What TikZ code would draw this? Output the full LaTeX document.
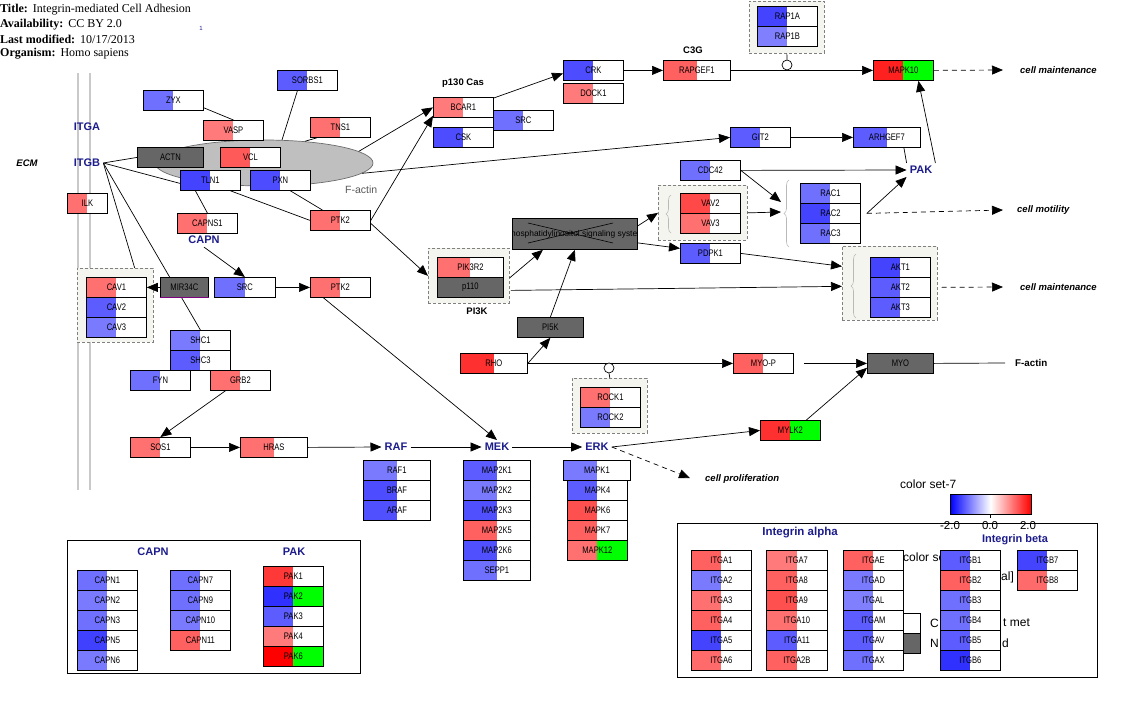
\documentclass[tikz,border=0pt]{standalone}
\usepackage{fontspec}
\setmainfont{Liberation Serif}
\newfontfamily\ar{Liberation Sans}
\newfontfamily\arn[FakeStretch=0.8]{Liberation Sans}
\usetikzlibrary{arrows.meta,shapes.geometric,decorations.pathreplacing,calc}
\pgfdeclarelayer{bg}\pgfdeclarelayer{edges}
\pgfsetlayers{bg,edges,main}
\definecolor{navy}{RGB}{28,28,140}
\definecolor{dk}{HTML}{666666}
\definecolor{grpfill}{HTML}{F5F5EF}
\definecolor{grn}{HTML}{00FF00}
\definecolor{b0}{HTML}{3030FF}
\definecolor{b0a}{HTML}{4040FF}
\definecolor{b1}{HTML}{4444FF}
\definecolor{b1a}{HTML}{4D4DFF}
\definecolor{b50}{HTML}{5050FF}
\definecolor{b2}{HTML}{5C5CFF}
\definecolor{b3}{HTML}{7070FF}
\definecolor{b4}{HTML}{7A7AFF}
\definecolor{b5}{HTML}{8080FF}
\definecolor{r0}{HTML}{FF0000}
\definecolor{rr}{HTML}{FF2020}
\definecolor{r1}{HTML}{FF3030}
\definecolor{r1a}{HTML}{FF3838}
\definecolor{r2b}{HTML}{FF4848}
\definecolor{r2}{HTML}{FF5050}
\definecolor{r2a}{HTML}{FF5A5A}
\definecolor{r3}{HTML}{FF6060}
\definecolor{r3a}{HTML}{FF6A6A}
\definecolor{r4}{HTML}{FF7070}
\definecolor{r5}{HTML}{FF7B7B}
\tikzset{
 gbox/.style={draw=black, fill=white, line width=0.8pt, minimum height=20pt, inner sep=0pt, anchor=north west, font=\arn\fontsize{9.5}{10}\selectfont},
 fl/.style={path picture={\fill[#1] (path picture bounding box.north west) rectangle (path picture bounding box.south);}},
 flr/.style 2 args={path picture={\fill[#1] (path picture bounding box.north west) rectangle (path picture bounding box.south); \fill[#2] (path picture bounding box.north) rectangle (path picture bounding box.south east);}},
 dkbox/.style={gbox, fill=dk},
 grp/.style={draw=gray, dash pattern=on 3pt off 2pt, fill=grpfill, line width=0.7pt, anchor=north west, inner sep=0pt},
 lab/.style={font=\ar\bfseries\fontsize{11}{12}\selectfont, text=navy, inner sep=3pt},
 blab/.style={font=\ar\bfseries\fontsize{9.5}{10}\selectfont, inner sep=1pt},
 outl/.style={font=\ar\bfseries\itshape\fontsize{9.5}{10}\selectfont, anchor=west, inner sep=0pt},
 leg/.style={font=\ar\fontsize{12}{13}\selectfont, inner sep=0pt},
 hdr/.style={anchor=west, inner sep=0pt, font=\fontsize{12}{13}\selectfont},
 arr/.style={-{Triangle[length=11pt,width=9pt]}, line width=0.7pt},
 darr/.style={arr, dash pattern=on 5pt off 4pt},
 ln/.style={line width=0.7pt},
 brc/.style={decorate, decoration={brace, amplitude=5pt}, draw=gray!55, line width=0.6pt},
 inh/.style={circle, draw, fill=white, minimum size=10pt, inner sep=0pt, line width=0.7pt},
}
\newcommand\gene[6][60]{\node[gbox,minimum width=#1pt,fl=#5] (#2) at (#3,#4) {#6};}
\newcommand\genetwo[7][60]{\node[gbox,minimum width=#1pt,flr={#5}{#6}] (#2) at (#3,#4) {#7};}
\newcommand\darkg[5][66]{\node[dkbox,minimum width=#1pt] (#2) at (#3,#4) {#5};}
\begin{document}
\begin{tikzpicture}[x=1pt,y=-1pt]
\useasboundingbox (0,0) rectangle (1145,706);
% header
\node[hdr] (t1) at (0,10) {\textbf{Title:}\hspace{5pt}Integrin-mediated Cell Adhesion};
\node[hdr] (t2) at (0,25) {\textbf{Availability:}\hspace{5pt}CC BY 2.0};
\node[hdr] (t3) at (0,39) {\textbf{Last modified:}\hspace{5pt}10/17/2013};
\node[hdr] (t4) at (0,54) {\textbf{Organism:}\hspace{5pt}Homo sapiens};
\node[font=\ar\fontsize{6}{7}\selectfont, text=navy, inner sep=0] (one) at (201,28) {1};
% background layer
\begin{pgfonlayer}{bg}
\draw[line width=2.5pt, gray!42] (78,73) -- (78,490);
\draw[line width=2.5pt, gray!42] (90,73) -- (90,490);
\node[ellipse, draw=gray!85!black, fill=gray!50, line width=0.7pt, minimum width=218pt, minimum height=46pt, inner sep=0pt] (actin) at (264,163) {};
\node[grp, minimum width=75pt, minimum height=52pt] (rap1g) at (749,1) {};
\node[grp, minimum width=89pt, minimum height=55pt] (vavg) at (658,185) {};
\node[grp, minimum width=95pt, minimum height=74pt] (aktg) at (842,246) {};
\node[grp, minimum width=81pt, minimum height=55pt] (pi3kg) at (428,248) {};
\node[grp, minimum width=76pt, minimum height=74pt] (cavg) at (77,268) {};
\node[grp, minimum width=75pt, minimum height=55pt] (rockg) at (572,378) {};
\draw[brc] (671,233) -- (671,195);
\draw[brc] (789,247) -- (789,180);
\draw[brc] (856,318) -- (856,254);
\node[draw, line width=0.8pt, anchor=north west, minimum width=293pt, minimum height=133pt, inner sep=0pt] (lbox1) at (67,540) {};
\node[draw, line width=0.8pt, anchor=north west, minimum width=420pt, minimum height=154pt, inner sep=0pt] (lbox2) at (677,523) {};
\end{pgfonlayer}
% labels
\node[font=\ar\fontsize{10.5}{11}\selectfont, text=gray!70!black, anchor=west, inner sep=0] (fal) at (345,190) {F-actin};
\node[lab] (itga) at (87,127) {ITGA};
\node[lab] (itgb) at (87,163) {ITGB};
\node[font=\ar\bfseries\itshape\fontsize{9.5}{10}\selectfont, inner sep=0] (ecm) at (27,163) {ECM};
\node[lab] (capn) at (204,240) {CAPN};
\node[blab] (p130) at (463,83) {p130 Cas};
\node[blab] (c3g) at (693,50) {C3G};
\node[blab] (pi3kl) at (477,311) {PI3K};
\node[lab] (pak) at (921,170) {PAK};
\node[lab] (raf) at (396,447) {RAF};
\node[lab] (mek) at (497,447) {MEK};
\node[lab] (erk) at (597,447) {ERK};
\node[outl] (cm1) at (1020,70) {cell maintenance};
\node[outl] (cmot) at (1017,210) {cell motility};
\node[outl] (cm2) at (1020,287) {cell maintenance};
\node[outl] (cprol) at (705,479) {cell proliferation};
\node[font=\ar\bfseries\fontsize{9.8}{10}\selectfont, anchor=west, inner sep=0] (fa2) at (1015,363) {F-actin};
\coordinate (cm1e) at (1003,70);
\coordinate (cmote) at (1003,210);
\coordinate (cm2e) at (1003,287);
\coordinate (cprole) at (690,478);
\coordinate (racin1) at (781,202);
\coordinate (racin2) at (781,212);
\coordinate (factinw) at (1005,363);
% genes
\gene{zyx}{143}{90}{b3}{ZYX}
\gene{sorbs1}{277}{70}{b2}{SORBS1}
\gene{vasp}{203}{120}{r5}{VASP}
\gene{tns1}{310}{117}{r4}{TNS1}
\darkg{actn}{137}{147}{ACTN}
\gene{vcl}{220}{147}{r2a}{VCL}
\gene{tln1}{180}{170}{b1}{TLN1}
\gene{pxn}{250}{170}{b1a}{PXN}
\gene[40]{ilk}{67}{193}{r4}{ILK}
\gene{capns1}{177}{213}{r4}{CAPNS1}
\gene{ptka}{310}{210}{r4}{PTK2}
\gene{bcar1}{433}{97}{r5}{BCAR1}
\gene{csk}{433}{127}{b1a}{CSK}
\gene{src}{493}{110}{b3}{SRC}
\gene{crk}{563}{60}{b1a}{CRK}
\gene{dock1}{563}{83}{r5}{DOCK1}
\gene[67]{rapgef1}{663}{60}{r3}{RAPGEF1}
\gene{rap1a}{757}{6}{b1}{RAP1A}
\gene{rap1b}{757}{26}{b5}{RAP1B}
\genetwo{mapk10}{873}{60}{rr}{grn}{MAPK10}
\gene{git2}{730}{127}{b2}{GIT2}
\gene[67]{arhgef7}{853}{127}{b2}{ARHGEF7}
\gene{cdc42}{680}{160}{b3}{CDC42}
\gene{vav2}{680}{193}{r2b}{VAV2}
\gene{vav3}{680}{213}{r4}{VAV3}
\gene{rac1}{800}{183}{b3}{RAC1}
\gene{rac2}{800}{203}{b1}{RAC2}
\gene{rac3}{800}{223}{b3}{RAC3}
\gene{pdpk1}{680}{243}{b2}{PDPK1}
\gene{akt1}{870}{257}{b1}{AKT1}
\gene{akt2}{870}{277}{b2}{AKT2}
\gene{akt3}{870}{297}{b2}{AKT3}
\node[dkbox, minimum width=125pt, minimum height=31pt] (phos) at (512,218) {};
\begin{scope}
\clip (phos.south west) rectangle (phos.north east);
\node[font=\ar\fontsize{8.4}{9}\selectfont, inner sep=0pt] (phost) at (phos.center) {Phosphatidylinositol signaling system};
\end{scope}
\draw[line width=0.6pt] ($(phos.north west)+(16,5)$) -- ($(phos.north west)+(101,25)$);
\draw[line width=0.6pt] ($(phos.north west)+(16,25)$) -- ($(phos.north west)+(101,5)$);
\gene[66]{pik3r2}{437}{257}{r4}{PIK3R2}
\darkg{p110}{437}{277}{p110}
\darkg{pi5k}{517}{317}{PI5K}
\gene{cav1}{86}{277}{r4}{CAV1}
\gene{cav2}{86}{297}{b2}{CAV2}
\gene{cav3}{86}{317}{b4}{CAV3}
\darkg[48]{mir}{160}{277}{MIR34C}
\draw[draw=violet, line width=1pt] (mir.south west) -- (mir.south east);
\gene[61]{srcb}{214}{277}{b3}{SRC}
\gene{ptkb}{310}{277}{r4}{PTK2}
\gene{shc1}{170}{330}{b4}{SHC1}
\gene{shc3}{170}{350}{b2}{SHC3}
\gene{fyn}{130}{370}{b3}{FYN}
\gene{grb2}{210}{370}{r4}{GRB2}
\gene{sos1}{130}{437}{r4}{SOS1}
\gene[67]{hras}{240}{437}{r4}{HRAS}
\gene[67]{raf1}{363}{460}{b4}{RAF1}
\gene[67]{braf}{363}{480}{b1a}{BRAF}
\gene[67]{araf}{363}{500}{b50}{ARAF}
\gene[67]{map2k1}{463}{460}{b2}{MAP2K1}
\gene[67]{map2k2}{463}{480}{b4}{MAP2K2}
\gene[67]{map2k3}{463}{500}{b50}{MAP2K3}
\gene[67]{map2k5}{463}{520}{r3}{MAP2K5}
\gene[67]{map2k6}{463}{540}{b50}{MAP2K6}
\gene[67]{sepp1}{463}{560}{b3}{SEPP1}
\gene[67]{mapk1}{563}{460}{b4}{MAPK1}
\gene{mapk4}{567}{480}{b2}{MAPK4}
\gene{mapk6}{567}{500}{r2}{MAPK6}
\gene{mapk7}{567}{520}{r3}{MAPK7}
\genetwo{mapk12}{567}{540}{r4}{grn}{MAPK12}
\gene[67]{rho}{460}{353}{r1}{RHO}
\gene{rock1}{580}{387}{r4}{ROCK1}
\gene{rock2}{580}{407}{b4}{ROCK2}
\gene{myop}{733}{353}{r3}{MYO-P}
\darkg{myo}{867}{353}{MYO}
\genetwo{mylk2}{760}{420}{r1}{grn}{MYLK2}
\node[inh] (inh1) at (787,65) {};
\node[inh] (inh2) at (609,368) {};
% legend CAPN / PAK
\node[lab] (capnl) at (153,552) {CAPN};
\node[lab] (pakl) at (294,552) {PAK};
\gene{capn1}{77}{570}{b3}{CAPN1}
\gene{capn2}{77}{590}{b4}{CAPN2}
\gene{capn3}{77}{610}{b3}{CAPN3}
\gene{capn5}{77}{630}{b0a}{CAPN5}
\gene{capn6}{77}{650}{b4}{CAPN6}
\gene{capn7}{170}{570}{b3}{CAPN7}
\gene{capn9}{170}{590}{b3}{CAPN9}
\gene{capn10}{170}{610}{b4}{CAPN10}
\gene{capn11}{170}{630}{r3}{CAPN11}
\gene{pak1}{263}{566}{r1a}{PAK1}
\genetwo{pak2}{263}{586}{b0}{grn}{PAK2}
\gene{pak3}{263}{606}{b2}{PAK3}
\gene{pak4}{263}{626}{r5}{PAK4}
\genetwo{pak6}{263}{646}{r0}{grn}{PAK6}
% colour legend
\node[leg, anchor=west] (csl) at (900,484) {color set-7};
\shade[left color=blue, right color=red, middle color=white] (950,494) rectangle (1031,514);
\draw[line width=0.8pt] (950,494) rectangle (1031,514);
\draw[line width=0.8pt] (990,514) -- (990,518);
\node[leg, font=\ar\fontsize{11.5}{12}\selectfont] (tm2) at (950,525.5) {-2.0};
\node[leg, font=\ar\fontsize{11.5}{12}\selectfont] (t00) at (990,525.5) {0.0};
\node[leg, font=\ar\fontsize{11.5}{12}\selectfont] (tp2) at (1028,525.5) {2.0};
\node[leg, anchor=west] (hid1) at (903,557) {color se};
\node[leg, anchor=west] (hid2) at (1001,577) {al]};
\node[draw, fill=white, line width=0.8pt, minimum width=17pt, minimum height=20pt, inner sep=0, anchor=north west] (sqw) at (903,613) {};
\node[draw, fill=dk, line width=0.8pt, minimum width=17pt, minimum height=20pt, inner sep=0, anchor=north west] (sqg) at (903,633) {};
\node[leg, anchor=west] (hid3) at (930,623) {C};
\node[leg, anchor=west] (hid3b) at (1003,623) {t met};
\node[leg, anchor=west] (hid4) at (930,643) {N};
\node[leg, anchor=west] (hid4b) at (1002,643) {d};
\node[lab, inner sep=0pt, font=\ar\bfseries\fontsize{11.5}{12}\selectfont] (ial) at (800,533) {Integrin alpha};
\node[lab, inner sep=0pt, font=\ar\bfseries\fontsize{11}{12}\selectfont] (ibl) at (1015,539.5) {Integrin beta};
\gene{itga1}{691}{550}{r3}{ITGA1}
\gene{itga2}{691}{570}{b4}{ITGA2}
\gene{itga3}{691}{590}{r4}{ITGA3}
\gene{itga4}{691}{610}{r3}{ITGA4}
\gene{itga5}{691}{630}{b1}{ITGA5}
\gene{itga6}{691}{650}{r3a}{ITGA6}
\gene[61]{itga7}{766}{550}{r5}{ITGA7}
\gene[61]{itga8}{766}{570}{r3}{ITGA8}
\gene[61]{itga9}{766}{590}{r2}{ITGA9}
\gene[61]{itga10}{766}{610}{r4}{ITGA10}
\gene[61]{itga11}{766}{630}{b2}{ITGA11}
\gene[61]{itga2b}{766}{650}{r3}{ITGA2B}
\gene{itgae}{843}{550}{r3}{ITGAE}
\gene{itgad}{843}{570}{b4}{ITGAD}
\gene{itgal}{843}{590}{b5}{ITGAL}
\gene{itgam}{843}{610}{b2}{ITGAM}
\gene{itgav}{843}{630}{b2}{ITGAV}
\gene{itgax}{843}{650}{b3}{ITGAX}
\gene{itgb1}{940}{550}{b2}{ITGB1}
\gene{itgb2}{940}{570}{r3}{ITGB2}
\gene{itgb3}{940}{590}{b3}{ITGB3}
\gene{itgb4}{940}{610}{b3}{ITGB4}
\gene{itgb5}{940}{630}{b2}{ITGB5}
\gene{itgb6}{940}{650}{b0}{ITGB6}
\gene{itgb7}{1017}{550}{b1}{ITGB7}
\gene{itgb8}{1017}{570}{r3a}{ITGB8}
% edges
\begin{pgfonlayer}{edges}
\draw[ln] ([yshift=3pt]zyx.south east) -- (vasp.north);
\draw[ln] ([xshift=-10pt]sorbs1.south) -- (actin.52);
\draw[ln] ([xshift=7pt]tns1.south west) -- (actin.28);
\draw[ln] (itgb.east) -- (actn.west);
\draw[ln] (itgb.east) -- ([yshift=-3pt]tln1.west);
\draw[ln] (itgb.east) -- ([xshift=-19pt]cavg.north east);
\draw[ln] (itgb.east) -- (shc1.north);
\draw[ln] ([xshift=-15pt]tln1.south) -- (capns1.north);
\draw[ln] ([xshift=20pt]tln1.south) -- (ptka.west);
\draw[ln] ([xshift=10pt]pxn.south) -- ([xshift=-18pt]ptka.north);
\draw[arr] (ptka.east) -- ([yshift=2pt]bcar1.south west);
\draw[arr] (actin.7) -- (bcar1.west);
\draw[arr] (actin.-6) -- (git2.west);
\draw[arr] ([yshift=-3pt]ptka.east) -- (pi3kg.west);
\draw[arr] ([yshift=-1pt]bcar1.north east) -- ([yshift=-3pt]crk.west);
\draw[arr] (crk.east) -- (rapgef1.west);
\draw[arr] (rapgef1.east) -- (mapk10.west);
\draw[ln] (inh1.north) -- (rap1g.south);
\draw[arr] (git2.east) -- (arhgef7.west);
\draw[ln] ([xshift=17pt]arhgef7.south) -- (pak.north west);
\draw[arr] (pak.north east) -- ([xshift=15pt]mapk10.south);
\draw[darr] (mapk10.east) -- (cm1e);
\draw[arr] (cdc42.east) -- (pak.west);
\draw[arr] (cdc42.east) -- (racin1);
\draw[arr] (vavg.east) -- (racin2);
\draw[arr] ([xshift=6pt]rac2.east) -- (pak.south west);
\draw[darr] ([xshift=6pt]rac2.east) -- (cmote);
\draw[arr] ([yshift=8pt]phos.east) -- (vavg.west);
\draw[arr] ([yshift=-9pt]phos.east) -- ([yshift=5pt]pdpk1.west);
\draw[arr] (pdpk1.east) -- ([yshift=17pt]aktg.west);
\draw[arr] ([xshift=7pt,yshift=-3pt]p110.east) -- ([yshift=-3pt]aktg.west);
\draw[darr] ([xshift=4pt,yshift=-4pt]aktg.east) -- (cm2e);
\draw[arr] ([yshift=-2pt]pi3kg.east) -- ([xshift=-32pt]phos.south);
\draw[arr] (pi5k.north) -- (phos.south);
\draw[arr] (rho.east) -- (pi5k.south);
\draw[arr] (rho.east) -- (myop.west);
\draw[ln] (inh2.south) -- (rockg.north);
\draw[arr] ([xshift=10pt]myop.east) -- (myo.west);
\draw[ln] (myo.east) -- (factinw);
\draw[arr] ([xshift=16pt]mylk2.north) -- ([yshift=6pt]myo.south west);
\draw[arr] (erk.east) -- (mylk2.west);
\draw[darr] (erk.east) -- (cprole);
\draw[arr] (sos1.east) -- (hras.west);
\draw[arr] (hras.east) -- (raf.west);
\draw[arr] (raf.east) -- (mek.west);
\draw[arr] (mek.east) -- (erk.west);
\draw[arr] ([xshift=-15pt]grb2.south) -- (sos1.north);
\draw[arr] ([xshift=-17pt]ptkb.south) -- (mek.north);
\draw[arr] (srcb.east) -- (ptkb.west);
\draw[arr] (capn.south) -- (srcb.north);
\draw[arr] (mir.west) -- (cav1.east);
\end{pgfonlayer}
\end{tikzpicture}
\end{document}
